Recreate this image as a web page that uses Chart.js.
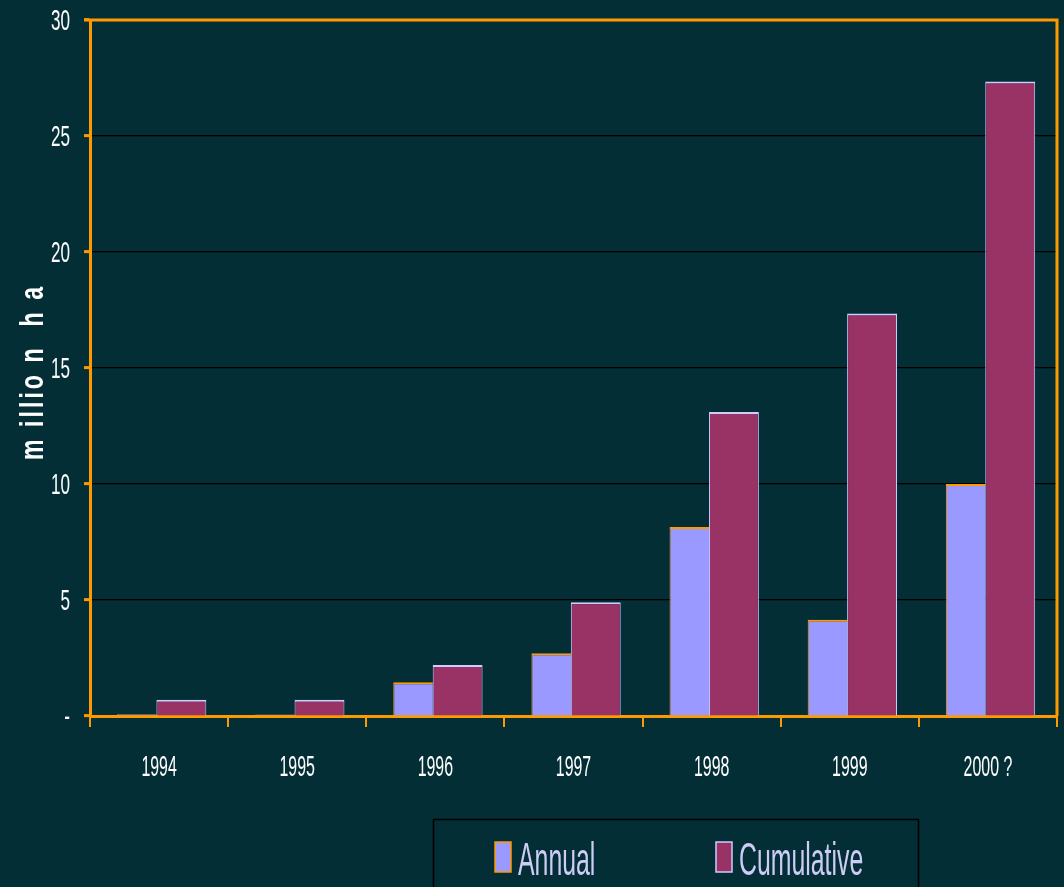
<!DOCTYPE html>
<html>
<head>
<meta charset="utf-8">
<script src="https://cdn.jsdelivr.net/npm/chart.js@4"></script>
<style>
    html, body { margin: 0; padding: 0; background: #042e36; }
    #wrap { width: 1064px; height: 887px; }
</style>
</head>
<body>
<div id="wrap"><canvas id="areaChart" width="1064" height="887"></canvas></div>
<script>
const years = ['1994', '1995', '1996', '1997', '1998', '1999', '2000 ?'];
const annual = [0.08, 0.06, 1.45, 2.7, 8.15, 4.15, 10.0];
const cumulative = [0.7, 0.7, 2.2, 4.9, 13.1, 17.35, 27.35];
const yTicks = [0, 5, 10, 15, 20, 25, 30];
const yTitle = 'm illio n  h a';

const ORANGE = '#ff9900';
const FONT = "'Liberation Sans', Arial, sans-serif";

// text squeezed sideways, the narrow face is not available
function drawNarrow(ctx, text, x, y, align, sx) {
    ctx.save();
    ctx.translate(x, y);
    ctx.scale(sx, 1);
    ctx.textAlign = align;
    ctx.fillText(text, 0, 0);
    ctx.restore();
}

// spaced-out title, written bottom to top, stretched over len pixels
function drawSpacedTitle(ctx, text, x, y, len, sx) {
    const chars = text.split('');
    const widths = chars.map(c => ctx.measureText(c).width * sx);
    const total = widths.reduce((a, b) => a + b, 0);
    const gap = (len - total) / (chars.length - 1);
    ctx.save();
    ctx.translate(x, y);
    ctx.rotate(-Math.PI / 2);
    ctx.textAlign = 'left';
    let pos = 0;
    chars.forEach((c, i) => {
        ctx.save();
        ctx.translate(pos, 0);
        ctx.scale(sx, 1);
        ctx.fillText(c, 0, 0);
        ctx.restore();
        pos += widths[i] + gap;
    });
    ctx.restore();
}

// frame, tick labels, axis title and legend box
const labelsPlugin = {
    id: 'labels',
    afterDatasetsDraw(chart) {
        const { ctx, chartArea } = chart;
        ctx.save();
        ctx.strokeStyle = ORANGE;
        ctx.lineWidth = 3;
        ctx.beginPath();
        ctx.moveTo(chartArea.left - 6, chartArea.top);
        ctx.lineTo(chartArea.right, chartArea.top);
        ctx.lineTo(chartArea.right, chartArea.bottom);
        ctx.stroke();
        ctx.restore();
    },
    afterDraw(chart) {
        const ctx = chart.ctx;
        const xScale = chart.scales.x;
        const yScale = chart.scales.y;
        ctx.save();
        ctx.fillStyle = '#ffffff';
        ctx.textBaseline = 'middle';

        ctx.font = '30px ' + FONT;
        yTicks.forEach(v => {
            drawNarrow(ctx, v === 0 ? '-' : String(v), 70, yScale.getPixelForValue(v) + 2, 'right', 0.57);
        });
        years.forEach((y, i) => {
            drawNarrow(ctx, y, xScale.getPixelForValue(i), 768, 'center', 0.53);
        });

        ctx.font = 'bold 34px ' + FONT;
        ctx.textBaseline = 'alphabetic';
        drawSpacedTitle(ctx, yTitle, 43, 460, 173, 0.68);

        // legend
        ctx.strokeStyle = '#000000';
        ctx.lineWidth = 1.5;
        ctx.strokeRect(433.5, 819.5, 485, 80);

        const items = [
            { x: 495, text: chart.data.datasets[0].label, fill: '#9999ff', border: ORANGE },
            { x: 716, text: chart.data.datasets[1].label, fill: '#993366', border: '#ccccff' }
        ];
        items.forEach(it => {
            ctx.fillStyle = it.fill;
            ctx.fillRect(it.x, 842, 16, 30);
            ctx.strokeStyle = it.border;
            ctx.lineWidth = 1.5;
            ctx.strokeRect(it.x, 842, 16, 30);
            ctx.fillStyle = '#ccccf5';
            ctx.font = '46px ' + FONT;
            drawNarrow(ctx, it.text, it.x + 23, 875, 'left', 0.54);
        });
        ctx.restore();
    }
};

new Chart(document.getElementById('areaChart').getContext('2d'), {
    type: 'bar',
    data: {
        labels: years,
        datasets: [
            {
                label: 'Annual',
                data: annual,
                backgroundColor: '#9999ff',
                borderColor: ORANGE,
                borderWidth: { top: 2, left: 1, right: 0, bottom: 0 },
                borderSkipped: false,
                barPercentage: 0.89
            },
            {
                label: 'Cumulative',
                data: cumulative,
                backgroundColor: '#993366',
                borderColor: '#ccccff',
                borderWidth: { top: 2, left: 1, right: 1, bottom: 0 },
                borderSkipped: false,
                barPercentage: 1.12
            }
        ]
    },
    options: {
        responsive: false,
        animation: false,
        datasets: { bar: { categoryPercentage: 0.645 } },
        layout: { padding: { top: 20, right: 7, bottom: 0, left: 0 } },
        plugins: {
            legend: { display: false },
            tooltip: { enabled: false }
        },
        scales: {
            x: {
                afterFit(scale) { scale.height = 171; },
                grid: {
                    offset: true,
                    drawOnChartArea: false,
                    color: ORANGE,
                    tickColor: ORANGE,
                    tickLength: 11,
                    lineWidth: 2
                },
                border: { color: ORANGE, width: 3 },
                ticks: { display: false }
            },
            y: {
                min: 0,
                max: 30,
                afterFit(scale) { scale.width = 90; },
                afterBuildTicks(scale) { scale.ticks = yTicks.map(v => ({ value: v })); },
                grid: {
                    color: '#000000',
                    tickColor: ORANGE,
                    tickLength: 6,
                    lineWidth: 1.2,
                    tickWidth: 3
                },
                border: { color: ORANGE, width: 3 },
                ticks: { display: false }
            }
        }
    },
    plugins: [labelsPlugin]
});
</script>
</body>
</html>
